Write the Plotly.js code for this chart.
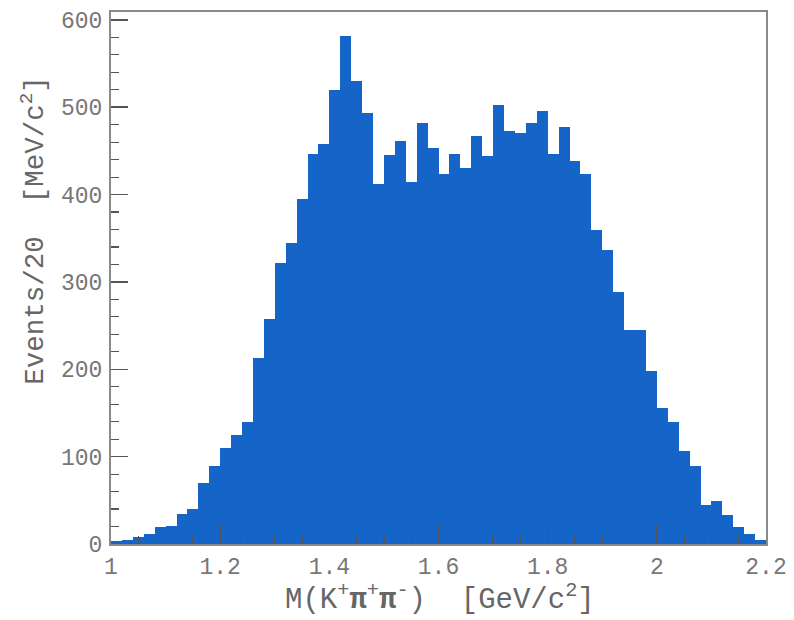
<!DOCTYPE html>
<html>
<head>
<meta charset="utf-8">
<script src="https://cdn.plot.ly/plotly-3.0.1.min.js"></script>
<style>html,body{margin:0;padding:0;background:#fff;}#chart{width:794px;height:620px;}</style>
</head>
<body>
<div id="chart"></div>
<script>
// Histogram: M(K+ pi+ pi-), 20 MeV bins from 1.0 to 2.2 GeV
const binStart = 1.0;
const binWidth = 0.02;
const counts = [
  3, 5, 8, 11, 20, 21, 34, 40, 70, 89,
  110, 125, 140, 213, 257, 322, 344, 395, 447, 458,
  520, 582, 530, 493, 412, 445, 461, 414, 482, 453,
  424, 446, 430, 467, 444, 502, 473, 470, 482, 496,
  446, 477, 439, 423, 360, 337, 288, 245, 245, 198,
  156, 140, 106, 89, 45, 49, 33, 19, 12, 5
];
const xTickVals = [1, 1.2, 1.4, 1.6, 1.8, 2, 2.2];
const xTickText = ["1", "1.2", "1.4", "1.6", "1.8", "2", "2.2"];
const yTickVals = [0, 100, 200, 300, 400, 500, 600];
const xTitle = "M(K<sup>+</sup><b>π</b><sup>+</sup><b>π</b><sup>-</sup>)  [GeV/c<sup>2</sup>]";
const yTitle = "Events/20  [MeV/c<sup>2</sup>]";

const lowEdges = counts.map((_, i) => binStart + i * binWidth);

const fontFam = "Liberation Mono, DejaVu Sans Mono, monospace";
const trace = {
  type: 'bar',
  x: lowEdges,
  y: counts,
  width: binWidth,
  offset: 0,
  marker: {color: '#1565c8', line: {width: 0}},
  hoverinfo: 'x+y'
};

const layout = {
  width: 794, height: 620,
  margin: {l: 111, r: 28, t: 12, b: 76, pad: 0},
  paper_bgcolor: '#ffffff',
  plot_bgcolor: '#ffffff',
  showlegend: false,
  bargap: 0,
  xaxis: {
    range: [1, 2.2],
    tickvals: xTickVals, ticktext: xTickText,
    ticks: 'inside', ticklen: 19, tickwidth: 1.5, tickcolor: '#555',
    minor: {dtick: 0.05, ticks: 'inside', ticklen: 8, tickwidth: 1.2, tickcolor: '#555', showgrid: false},
    showgrid: false, zeroline: false,
    showline: true, mirror: true, linecolor: '#8a8a8a', linewidth: 2,
    tickfont: {family: fontFam, size: 23, color: '#777'},
    layer: 'above traces'
  },
  yaxis: {
    range: [0, 609],
    tickvals: yTickVals,
    ticks: 'inside', ticklen: 17, tickwidth: 1.5, tickcolor: '#555',
    minor: {dtick: 20, ticks: 'inside', ticklen: 8, tickwidth: 1.2, tickcolor: '#555', showgrid: false},
    showgrid: false, zeroline: false,
    showline: true, mirror: true, linecolor: '#8a8a8a', linewidth: 2,
    tickfont: {family: fontFam, size: 23, color: '#777'},
    ticklabelstandoff: 2,
    layer: 'above traces'
  },
  annotations: [
    {
      text: xTitle, xref: 'paper', yref: 'paper',
      x: 0.502, y: -0.1015, xanchor: 'center', yanchor: 'middle',
      showarrow: false,
      font: {family: fontFam, size: 29, color: '#666'}
    },
    {
      text: yTitle, xref: 'paper', yref: 'paper',
      x: -0.118, y: 0.59, xanchor: 'center', yanchor: 'middle',
      textangle: -90, showarrow: false,
      font: {family: fontFam, size: 27.5, color: '#666'}
    }
  ]
};

Plotly.newPlot('chart', [trace], layout, {staticPlot: true, displayModeBar: false});
</script>
</body>
</html>
